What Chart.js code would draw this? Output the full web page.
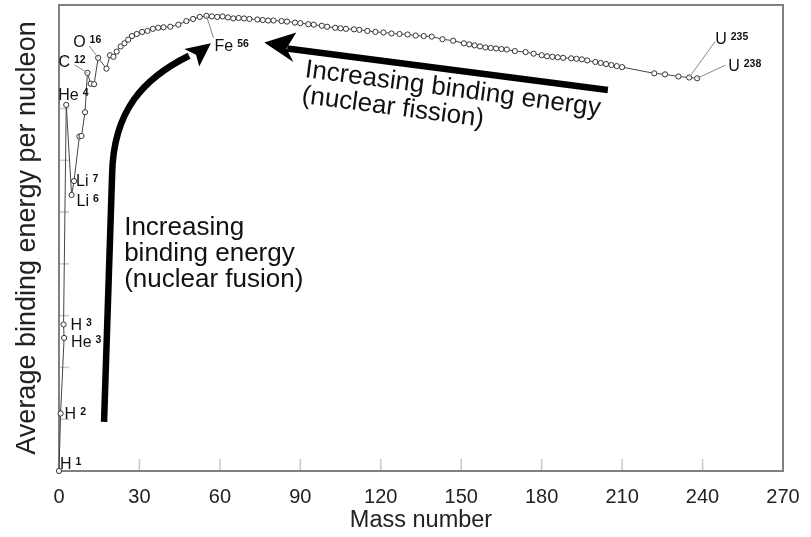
<!DOCTYPE html>
<html>
<head>
<meta charset="utf-8">
<script src="https://cdn.jsdelivr.net/npm/chart.js@4"></script>
<style>
  html, body { margin: 0; padding: 0; background: #fff; }
  #wrap { width: 811px; height: 537px; }
</style>
</head>
<body>
<div id="wrap"><canvas id="chart"></canvas></div>
<script>
// mass number (as drawn) and average binding energy per nucleon (MeV)
const massNumber = [0, 0.6, 1.9, 1.7, 2.7, 4.7, 5.6, 7.6, 8.4, 9.7,
  10.6, 11.8, 13.1, 14.6, 17.7, 19, 20.3, 21.5, 23, 24.4,
  25.8, 27.2, 29, 31, 33, 35, 37, 39, 41.5, 44.5,
  47.5, 50, 52.5, 55, 57, 59, 61, 63, 65, 67,
  69, 71, 74, 76, 78, 80, 83, 85, 88, 90,
  93, 95, 98, 100, 103, 105, 107, 110, 112, 115,
  118, 121, 124, 127, 130, 133, 136, 139, 143, 147,
  151, 153, 155, 157, 159, 161, 163, 165, 167, 170,
  174, 177, 180, 182, 184, 186, 188, 191, 193, 195,
  197, 200, 202, 204, 206, 208, 210, 222, 226, 231,
  235, 238];
const bindingEnergy = [0, 1.11, 2.57, 2.83, 7.07, 5.33, 5.6, 6.46, 6.47, 6.93,
  7.69, 7.48, 7.47, 7.98, 7.77, 8.03, 8.00, 8.10, 8.20, 8.26,
  8.33, 8.40, 8.44, 8.48, 8.50, 8.54, 8.56, 8.57, 8.58, 8.62,
  8.69, 8.73, 8.77, 8.79, 8.78, 8.77, 8.78, 8.76, 8.74, 8.75,
  8.74, 8.73, 8.72, 8.71, 8.70, 8.70, 8.69, 8.68, 8.66, 8.65,
  8.63, 8.62, 8.60, 8.58, 8.56, 8.55, 8.54, 8.53, 8.52, 8.50,
  8.48, 8.47, 8.45, 8.44, 8.43, 8.41, 8.40, 8.39, 8.34, 8.31,
  8.26, 8.24, 8.22, 8.20, 8.18, 8.17, 8.16, 8.15, 8.14, 8.11,
  8.09, 8.06, 8.03, 8.01, 8.00, 7.99, 7.98, 7.97, 7.96, 7.95,
  7.93, 7.90, 7.88, 7.86, 7.84, 7.82, 7.80, 7.68, 7.66, 7.62,
  7.60, 7.585];

const xTicks = [0, 30, 60, 90, 120, 150, 180, 210, 240, 270];
const yTicks = [0, 1, 2, 3, 4, 5, 6, 7, 8, 9];

// isotope labels, tied to the point with that mass number
const isotopeNames = ['H', 'H', 'He', 'H', 'He', 'Li', 'Li', 'C', 'O', 'Fe', 'U', 'U'];
const isotopeSups  = ['1', '2', '3', '3', '4', '6', '7', '12', '16', '56', '235', '238'];
const isotopeAt    = [0, 0.6, 1.9, 1.7, 2.7, 4.7, 5.6, 10.6, 14.6, 55, 235, 238];
// label offsets (px) from the point, and optional leader line end
const labelLayout = [
  {dx: 1, dy: -2}, {dx: 4, dy: 5}, {dx: 7, dy: 9}, {dx: 7, dy: 6},
  {dx: -8, dy: -5}, {dx: 5, dy: 11}, {dx: 2, dy: 5},
  {dx: -29, dy: -6, lead: [-13, -8]}, {dx: -25, dy: -11, lead: [-9, -12]},
  {dx: 8, dy: 35, lead: [7, 22]}, {dx: 26, dy: -33, lead: [26, -36]},
  {dx: 31, dy: -7, lead: [28, -13]}
];

// arrows in data units [mass number, MeV]
const fusionShaft = [[16.8, 0.95], [19.8, 5.72], [20.2, 6.97], [31.7, 7.59], [48.5, 8.02]];
const fusionHead = [[56.65, 8.26], [46.7, 8.15], [51.1, 8.04], [52.3, 7.81]];
const fissionShaft = [[204.7, 7.36], [85.1, 8.16]];
const fissionHead = [[76.55, 8.275], [88.5, 8.47], [84.8, 8.16], [87.4, 7.90]];

const fusionText = ['Increasing', 'binding energy', '(nuclear fusion)'];
const fusionAt = [24.3, 4.56];
const fissionText = ['Increasing binding energy', '(nuclear fission)'];
const fissionAt = [91.5, 7.61];

const FONT = '"Liberation Sans", Arial, sans-serif';
Chart.defaults.font.family = FONT;

const decor = {
  id: 'decor',
  beforeDatasetsDraw(chart) {
    const {ctx, chartArea: a, scales: {x, y}} = chart;
    ctx.save();
    ctx.strokeStyle = '#c8c8c8';
    ctx.lineWidth = 1.5;
    xTicks.slice(1, -1).forEach(v => {
      const p = x.getPixelForValue(v);
      ctx.beginPath(); ctx.moveTo(p, a.bottom); ctx.lineTo(p, a.bottom - 12); ctx.stroke();
    });
    yTicks.slice(1, -1).forEach(v => {
      const p = y.getPixelForValue(v);
      ctx.beginPath(); ctx.moveTo(a.left, p); ctx.lineTo(a.left + 10, p); ctx.stroke();
    });
    ctx.strokeStyle = '#808080';
    ctx.lineWidth = 2;
    ctx.strokeRect(a.left, a.top, a.right - a.left, a.bottom - a.top);
    ctx.restore();
  },
  afterDatasetsDraw(chart) {
    const {ctx, scales: {x, y}} = chart;
    const P = d => [x.getPixelForValue(d[0]), y.getPixelForValue(d[1])];
    ctx.save();

    // isotope labels
    isotopeNames.forEach((name, k) => {
      const i = massNumber.indexOf(isotopeAt[k]);
      const [px, py] = P([massNumber[i], bindingEnergy[i]]);
      const L = labelLayout[k];
      if (L.lead) {
        ctx.strokeStyle = '#888';
        ctx.lineWidth = 1;
        ctx.beginPath(); ctx.moveTo(px, py); ctx.lineTo(px + L.lead[0], py + L.lead[1]); ctx.stroke();
      }
      ctx.fillStyle = '#111';
      ctx.textBaseline = 'alphabetic';
      ctx.font = '16px ' + FONT;
      ctx.fillText(name, px + L.dx, py + L.dy);
      const w = ctx.measureText(name).width;
      ctx.font = 'bold 10.5px ' + FONT;
      ctx.fillText(isotopeSups[k], px + L.dx + w + 4, py + L.dy - 4);
    });

    // fusion arrow
    ctx.strokeStyle = '#000';
    ctx.fillStyle = '#000';
    ctx.lineWidth = 6.5;
    const s = fusionShaft.map(P);
    ctx.beginPath();
    ctx.moveTo(s[0][0], s[0][1]);
    ctx.lineTo(s[1][0], s[1][1]);
    ctx.bezierCurveTo(s[2][0], s[2][1], s[3][0], s[3][1], s[4][0], s[4][1]);
    ctx.stroke();
    const h = fusionHead.map(P);
    ctx.beginPath();
    h.forEach((p, i) => i ? ctx.lineTo(p[0], p[1]) : ctx.moveTo(p[0], p[1]));
    ctx.closePath(); ctx.fill();

    // fission arrow
    const f = fissionShaft.map(P);
    ctx.beginPath(); ctx.moveTo(f[0][0], f[0][1]); ctx.lineTo(f[1][0], f[1][1]); ctx.stroke();
    const fh = fissionHead.map(P);
    ctx.beginPath();
    fh.forEach((p, i) => i ? ctx.lineTo(p[0], p[1]) : ctx.moveTo(p[0], p[1]));
    ctx.closePath(); ctx.fill();

    // annotation texts
    ctx.fillStyle = '#111';
    ctx.font = '26px ' + FONT;
    const [tx, ty] = P(fusionAt);
    fusionText.forEach((t, i) => ctx.fillText(t, tx, ty + i * 26));
    const [qx, qy] = P(fissionAt);
    ctx.translate(qx, qy);
    ctx.rotate(7.5 * Math.PI / 180);
    fissionText.forEach((t, i) => ctx.fillText(t, 0, i * 26));
    ctx.restore();
  }
};

new Chart(document.getElementById('chart'), {
  type: 'scatter',
  data: {
    datasets: [{
      data: massNumber.map((a, i) => ({x: a, y: bindingEnergy[i]})),
      showLine: true,
      borderColor: '#444',
      borderWidth: 1,
      pointRadius: 2.6,
      pointBorderWidth: 1,
      pointBackgroundColor: '#fff',
      pointBorderColor: '#333',
      clip: false
    }]
  },
  options: {
    responsive: true,
    maintainAspectRatio: false,
    animation: false,
    layout: {padding: {top: 5, right: 28, bottom: 0, left: 0}},
    plugins: {legend: {display: false}, tooltip: {enabled: false}},
    scales: {
      x: {
        type: 'linear', min: 0, max: 270,
        afterBuildTicks: s => { s.ticks = xTicks.map(v => ({value: v})); },
        ticks: {font: {size: 20}, color: '#222', padding: 6, maxRotation: 0, autoSkip: false},
        grid: {display: false},
        border: {display: false},
        title: {display: true, text: 'Mass number', font: {size: 23.5}, color: '#222', padding: {top: 0, bottom: 2}},
        afterFit: s => { s.height = 66; }
      },
      y: {
        min: 0, max: 9,
        afterBuildTicks: s => { s.ticks = yTicks.map(v => ({value: v})); },
        ticks: {display: false},
        grid: {display: false},
        border: {display: false},
        title: {display: true, text: 'Average binding energy per nucleon', font: {size: 27}, color: '#222', padding: {top: 11, bottom: 0}},
        afterFit: s => { s.width = 59; }
      }
    }
  },
  plugins: [decor]
});
</script>
</body>
</html>
